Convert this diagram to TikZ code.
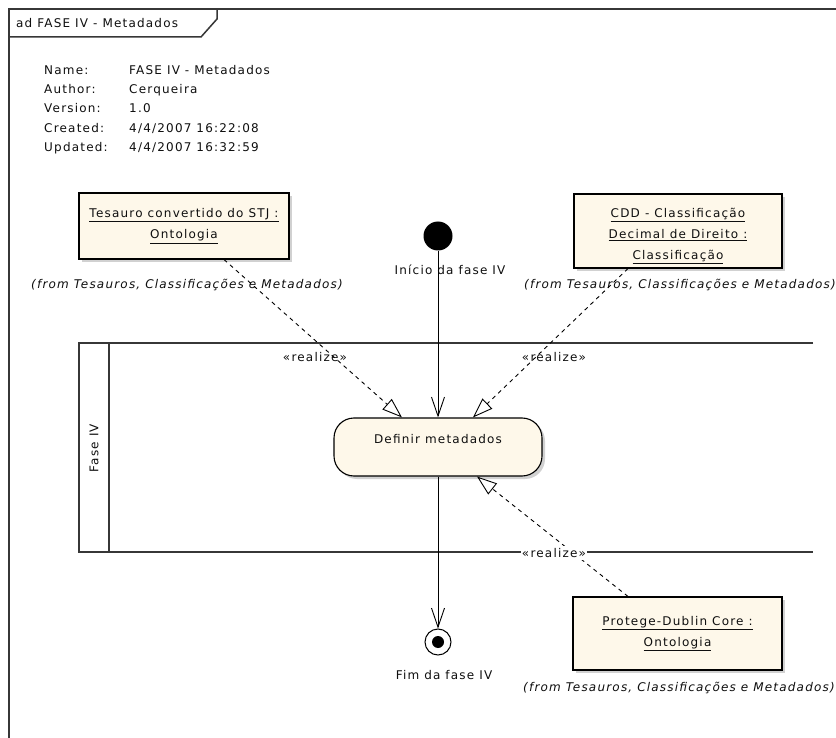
\documentclass[tikz,border=0pt]{standalone}
\usepackage{fontspec}
\setmainfont{DejaVu Sans}[LetterSpace=10]
\usetikzlibrary{arrows.meta,shadows,calc}

\definecolor{boxfill}{RGB}{254,248,234}
\definecolor{ink}{RGB}{15,15,15}
\definecolor{framegray}{RGB}{55,55,55}

\begin{document}
\begin{tikzpicture}[x=1pt,y=-1pt,
  every node/.style={font=\fontsize{12}{21}\selectfont, text=ink, inner sep=0pt},
  frameline/.style={draw=framegray, line width=1.5pt},
  laneline/.style={draw=framegray, line width=1.7pt},
  objbox/.style={draw=black, line width=1.1pt, fill=boxfill, align=center,
    drop shadow={shadow xshift=3pt, shadow yshift=-3pt, fill=black!40, opacity=0.45}},
  actbox/.style={draw=black, line width=1.1pt, fill=boxfill, rounded corners=20pt,
    drop shadow={shadow xshift=3pt, shadow yshift=-3pt, fill=black!40, opacity=0.45}},
  fromnote/.style={font=\fontsize{12}{14}\selectfont\itshape},
  stereo/.style={font=\fontsize{12}{14}\selectfont},
  flow/.style={draw=black, line width=0.9pt, -{Straight Barb[length=19pt,width=13pt]}},
  realize/.style={draw=black, line width=0.9pt, dash pattern=on 4pt off 4pt,
    -{Triangle[open, length=20pt, width=14pt]}},
]
\useasboundingbox[fill=white] (0,0) rectangle (836,738);

% diagram frame and its name tab
\draw[frameline] (9,738) -- (9,9) -- (836,9);
\draw[frameline] (9,37) -- (201,37) -- (217,19) -- (217,9);
\node[anchor=base west] (title) at (16,27.5) {ad FASE IV - Metadados};

% diagram properties
\node[anchor=base west] (kname) at (44,74.5)    {Name:};
\node[anchor=base west] (kauth) at (44,93.7)  {Author:};
\node[anchor=base west] (kver)  at (44,112.9) {Version:};
\node[anchor=base west] (kcre)  at (44,132.1) {Created:};
\node[anchor=base west] (kupd)  at (44,151.3) {Updated:};
\node[anchor=base west] (vname) at (129,74.5)    {FASE IV - Metadados};
\node[anchor=base west] (vauth) at (129,93.7)  {Cerqueira};
\node[anchor=base west] (vver)  at (129,112.9) {1.0};
\node[anchor=base west] (vcre)  at (129,132.1) {4/4/2007 16:22:08};
\node[anchor=base west] (vupd)  at (129,151.3) {4/4/2007 16:32:59};

% swimlane "Fase IV"
\draw[laneline] (813,343) -- (79,343) -- (79,552) -- (813,552);
\draw[laneline] (109,343) -- (109,552);
\node[rotate=90] (lanename) at (94,448) {Fase IV};

% object instances
\node[objbox, minimum width=210pt, minimum height=66pt] (tesauro) at (184,226)
  {\underline{Tesauro convertido do STJ :}\\\underline{Ontologia}};
\node[fromnote] (tesauroFrom) at (187,285) {(from Tesauros, Classificações e Metadados)};

\node[objbox, minimum width=208pt, minimum height=74pt] (cdd) at (678,231)
  {\rule{0pt}{19pt}\underline{CDD - Classificação}\\\underline{Decimal de Direito :}\\\underline{Classificação}};
\node[fromnote] (cddFrom) at (680,285) {(from Tesauros, Classificações e Metadados)};

\node[objbox, minimum width=209pt, minimum height=73pt] (dublin) at (677.5,633.5)
  {\underline{Protege-Dublin Core :}\\\underline{Ontologia}};
\node[fromnote] (dublinFrom) at (679,688) {(from Tesauros, Classificações e Metadados)};

% activity flow
\node[circle, fill=black, minimum size=29pt] (start) at (438,236) {};
\node (startName) at (450,270) {Início da fase IV};

\node[actbox, minimum width=208pt, minimum height=58pt, text height=8pt, text depth=16pt]
  (act) at (438,447) {Definir metadados};

\node[circle, draw=black, line width=1pt, fill=white, minimum size=26pt] (final) at (438,642) {};
\node[circle, fill=black, minimum size=12pt] (finalDot) at (final.center) {};
\node (finalName) at (444,675) {Fim da fase IV};

\draw[flow] (start.south) -- (act.north);
\draw[flow] (act.south) -- (final.north);

% realization dependencies
\draw[realize] ($(tesauro.south)+(40,0)$) -- ($(act.north)+(-36,0)$);
\draw[realize] ($(cdd.south)+(-50,0)$) -- ($(act.north)+(35,0)$);
\draw[realize] ($(dublin.north)+(-49.5,0)$) -- ($(act.south)+(39,0)$);

\node[stereo] (r1) at (315,357) {«realize»};
\node[stereo] (r2) at (554,357) {«realize»};
\node[stereo, fill=white, inner xsep=1pt, inner ysep=2pt] (r3) at (554,553) {«realize»};
\end{tikzpicture}
\end{document}
